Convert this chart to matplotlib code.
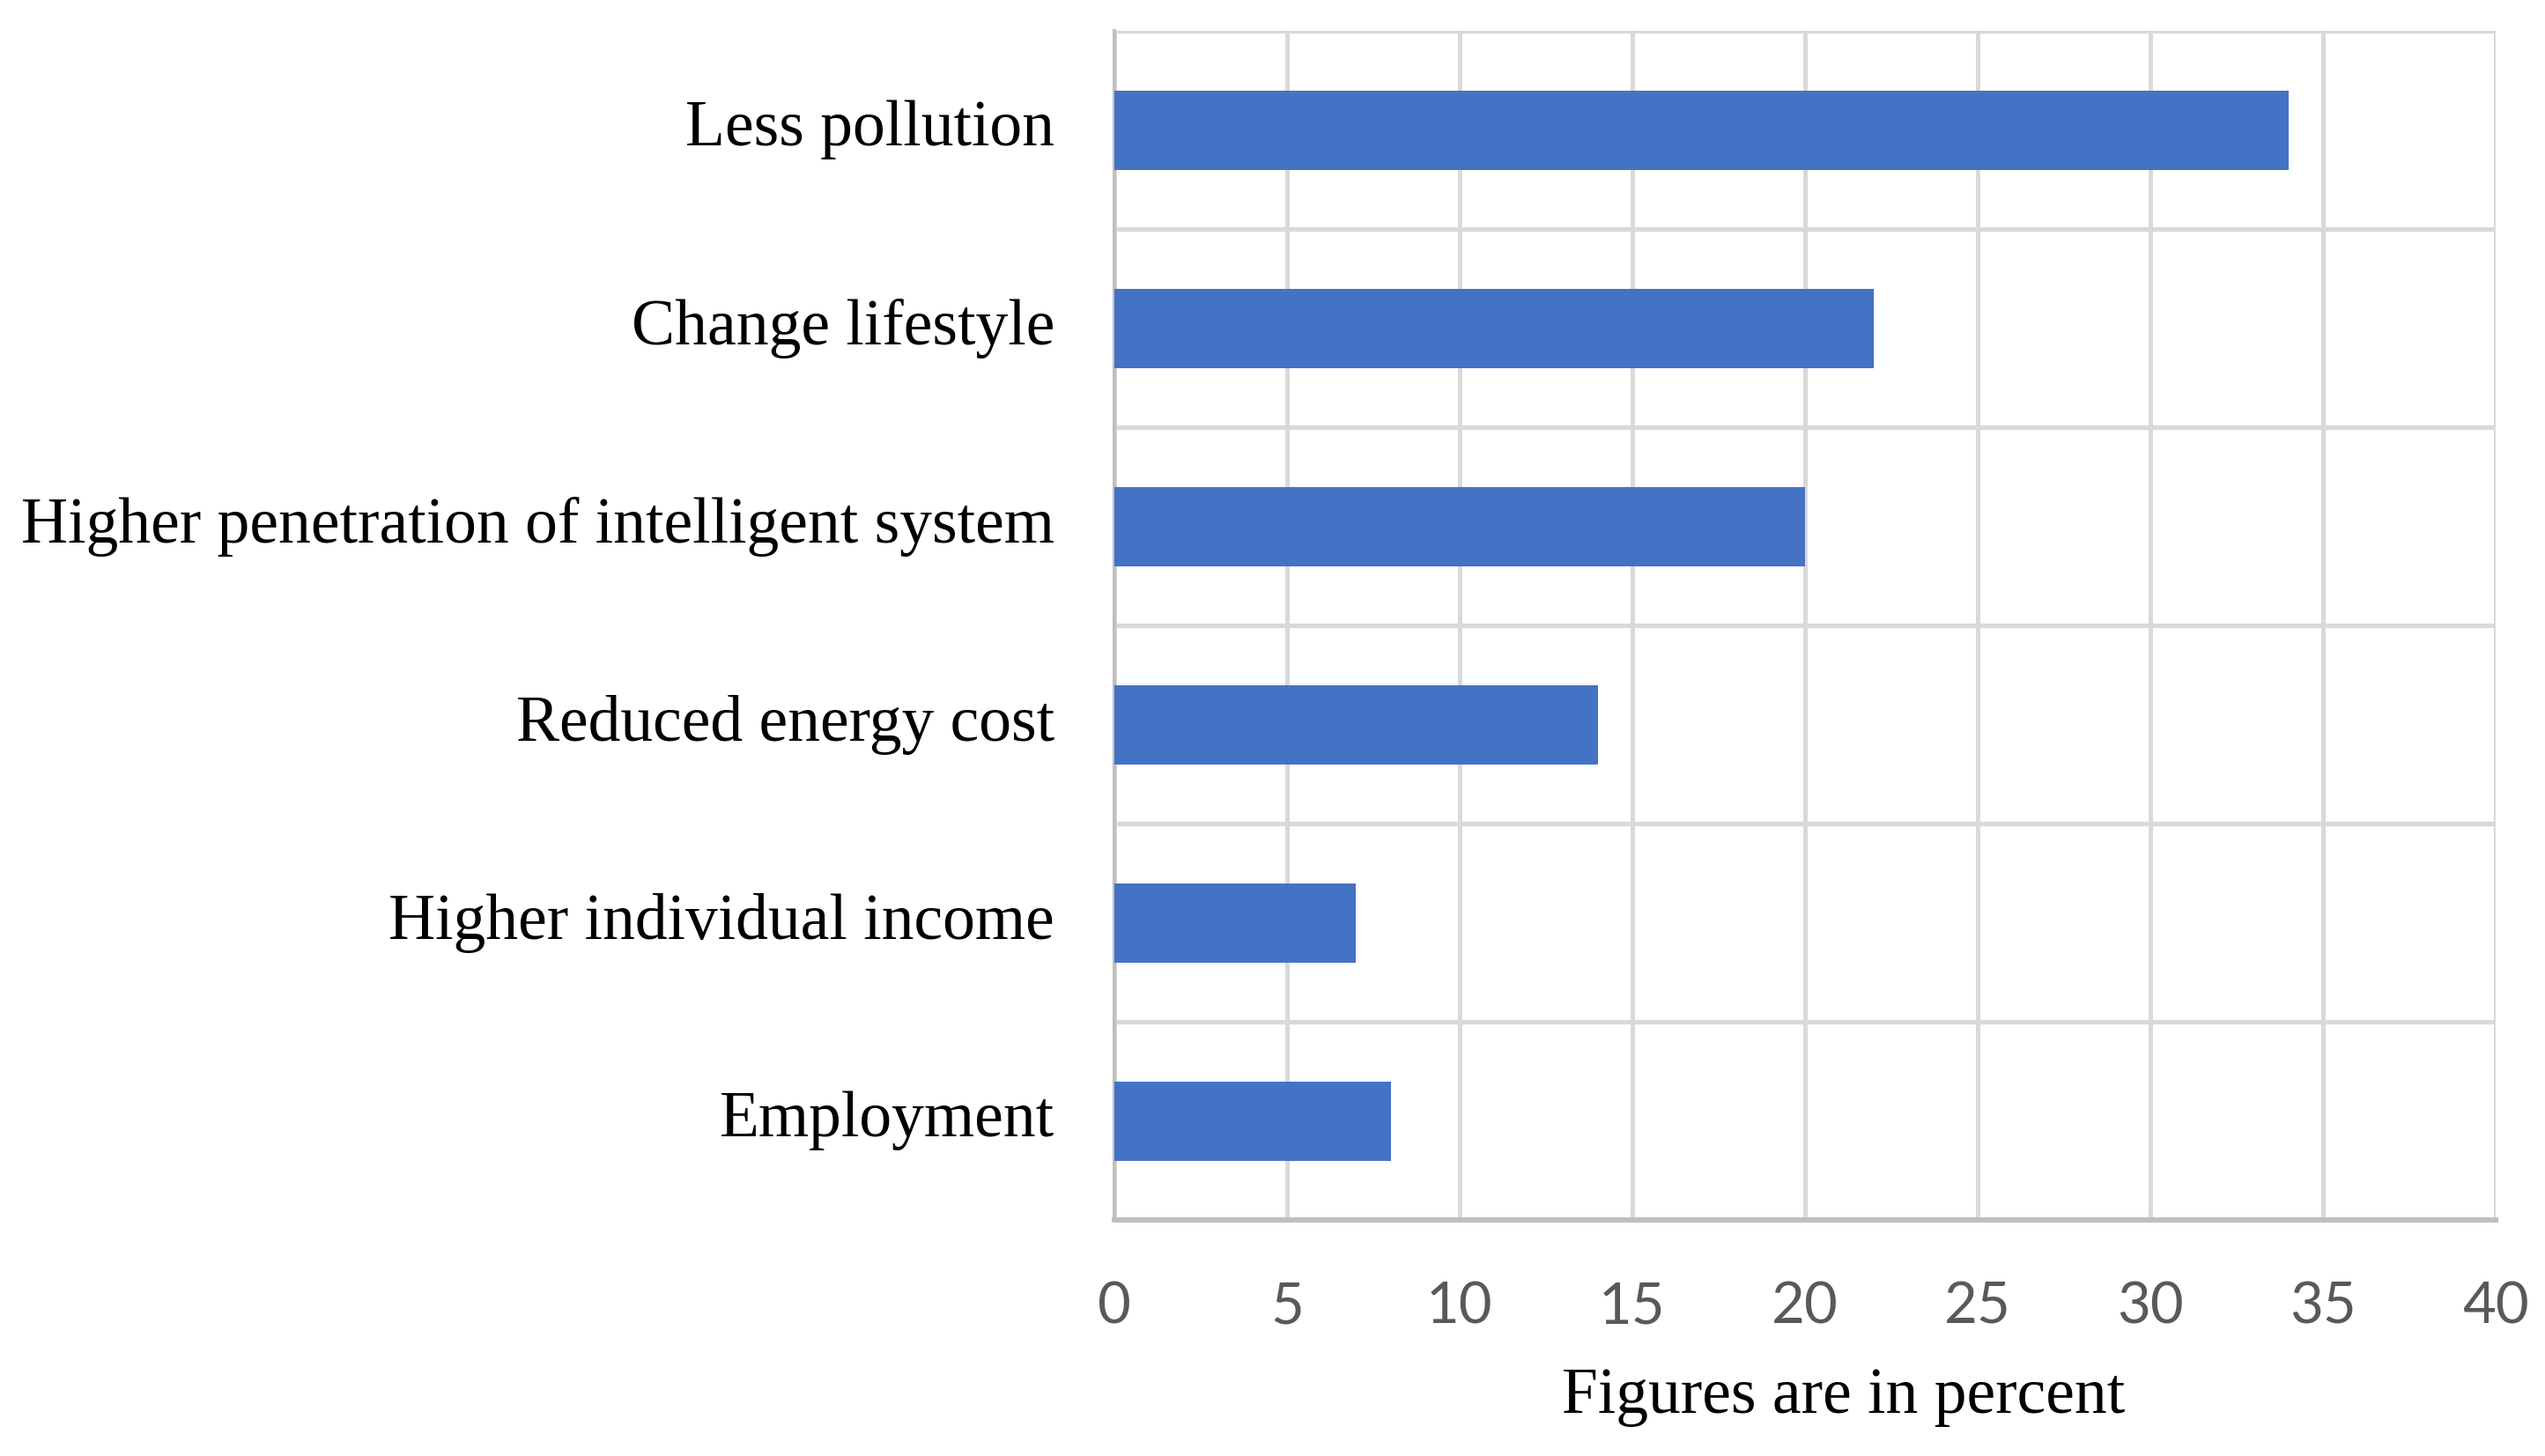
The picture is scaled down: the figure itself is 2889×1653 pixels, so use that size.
import matplotlib.pyplot as plt
import numpy as np

# data (bottom to top)
categories = ['Employment', 'Higher individual income', 'Reduced energy cost',
              'Higher penetration of intelligent system', 'Change lifestyle', 'Less pollution']
values = [8, 7, 14, 20, 22, 34]
xticks = [0, 5, 10, 15, 20, 25, 30, 35, 40]

fig = plt.figure(figsize=(28.89, 16.53), dpi=100)
ax = fig.add_axes([0.4379, 0.1621, 0.9805 - 0.4379, 0.9788 - 0.1621])

y = np.arange(len(categories))
ax.barh(y, values, height=0.4, color='#4472c4', zorder=3)

ax.set_xlim(0, 40)
ax.set_ylim(-0.5, len(categories) - 0.5)
ax.set_xticks(xticks)
ax.set_xticklabels([str(t) for t in xticks], family='Lato', fontsize=47, color='#595959')
ax.set_yticks(y)
ax.set_yticklabels(categories, family='Liberation Serif', fontsize=53, color='black', va='center')
ax.set_yticks(np.arange(-0.5, len(categories), 1.0), minor=True)

# grid
ax.grid(axis='x', which='major', color='#d9d9d9', lw=3.6, zorder=0)
ax.grid(axis='y', which='minor', color='#d9d9d9', lw=3.8, zorder=0)
ax.grid(axis='y', which='major', visible=False)
ax.tick_params(axis='both', which='both', length=0)
ax.tick_params(axis='x', pad=50)
ax.tick_params(axis='y', pad=49)

for s in ['top', 'right']:
    ax.spines[s].set_visible(False)
ax.spines['bottom'].set_color('#bfbfbf')
ax.spines['bottom'].set_linewidth(4.3)
ax.spines['left'].set_color('#bfbfbf')
ax.spines['left'].set_linewidth(2.9)
ax.spines['bottom'].set_zorder(4)

ax.set_xlabel('Figures are in percent', family='Liberation Serif', fontsize=53)
ax.xaxis.set_label_coords(0.528, -0.124)

fig.savefig('out.png', dpi=100, facecolor='white')
